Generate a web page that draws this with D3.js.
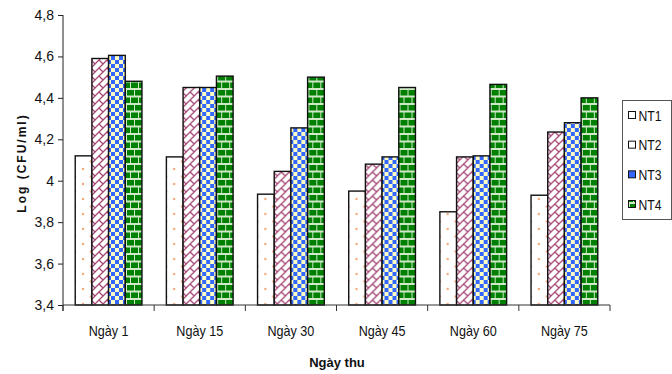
<!DOCTYPE html>
<html>
<head>
<meta charset="utf-8">
<script src="https://cdn.jsdelivr.net/npm/d3@7"></script>
<style>
  html, body { margin: 0; padding: 0; background: #fff; }
  svg { display: block; font-family: "Liberation Sans", Arial, sans-serif; }
</style>
</head>
<body>
<svg id="chart" width="672" height="374"></svg>
<script>
// Sampling days and log counts for the four treatments
const categories = ["Ngày 1", "Ngày 15", "Ngày 30", "Ngày 45", "Ngày 60", "Ngày 75"];
const seriesNames = ["NT1", "NT2", "NT3", "NT4"];
const NT1 = [4.12, 4.115, 3.935, 3.95, 3.85, 3.93];
const NT2 = [4.59, 4.45, 4.045, 4.08, 4.115, 4.235];
const NT3 = [4.605, 4.45, 4.255, 4.115, 4.12, 4.28];
const NT4 = [4.48, 4.505, 4.50, 4.45, 4.465, 4.40];
const yTicks = [3.4, 3.6, 3.8, 4.0, 4.2, 4.4, 4.6, 4.8];
const yTitle = "Log (CFU/ml)";
const xTitle = "Ngày thu";

const seriesValues = [NT1, NT2, NT3, NT4];

const svg = d3.select("#chart");
const plot = { left: 63, right: 610, top: 15, bottom: 305 };

// ---- fill patterns ----
const defs = svg.append("defs");

// NT1: sparse peach dots on white
const pDots = defs.append("pattern").attr("id", "pat-NT1")
  .attr("patternUnits", "userSpaceOnUse").attr("width", 16).attr("height", 15);
pDots.append("rect").attr("width", 16).attr("height", 15).attr("fill", "#fff");
pDots.append("circle").attr("cx", 4).attr("cy", 4).attr("r", 1.2).attr("fill", "#f5a878");
pDots.append("circle").attr("cx", 12).attr("cy", 11.5).attr("r", 1.2).attr("fill", "#f5a878");

// NT2: maroon diagonal brick on white
const pDiag = defs.append("pattern").attr("id", "pat-NT2")
  .attr("patternUnits", "userSpaceOnUse").attr("width", 8).attr("height", 8);
pDiag.append("rect").attr("width", 8).attr("height", 8).attr("fill", "#fff");
pDiag.append("path").attr("d", "M0,8 L8,0 M-1,1 L1,-1 M4,4 L8,8")
  .attr("stroke", "#993366").attr("stroke-width", 1.3).attr("fill", "none").attr("opacity", 0.9);

// NT3: blue / pale yellow checkerboard
const pCheck = defs.append("pattern").attr("id", "pat-NT3")
  .attr("patternUnits", "userSpaceOnUse").attr("width", 8).attr("height", 8);
pCheck.append("rect").attr("width", 8).attr("height", 8).attr("fill", "#ffffc4");
pCheck.append("rect").attr("x", 0).attr("y", 0).attr("width", 4).attr("height", 4).attr("fill", "#3366ff");
pCheck.append("rect").attr("x", 4).attr("y", 4).attr("width", 4).attr("height", 4).attr("fill", "#3366ff");

// NT4: green bricks with light mortar
const pBrick = defs.append("pattern").attr("id", "pat-NT4")
  .attr("patternUnits", "userSpaceOnUse").attr("width", 8).attr("height", 15);
pBrick.append("rect").attr("width", 8).attr("height", 15).attr("fill", "#cfe9c9");
pBrick.append("rect").attr("x", 0).attr("y", 0).attr("width", 7).attr("height", 5.5).attr("fill", "#008000");
pBrick.append("rect").attr("x", -4).attr("y", 7.5).attr("width", 7).attr("height", 5.5).attr("fill", "#008000");
pBrick.append("rect").attr("x", 4).attr("y", 7.5).attr("width", 7).attr("height", 5.5).attr("fill", "#008000");

// ---- scales ----
const x0 = d3.scaleBand().domain(categories).range([plot.left, plot.right]).padding(0);
const bw = x0.bandwidth();
const gap = bw * 0.134;
const x1 = d3.scaleBand().domain(seriesNames).range([gap, bw - gap]).padding(0);
const y = d3.scaleLinear().domain([3.4, 4.8]).range([plot.bottom, plot.top]);

// ---- bars ----
const groups = svg.append("g").selectAll("g")
  .data(categories)
  .join("g")
  .attr("transform", d => `translate(${x0(d)},0)`);

groups.selectAll("rect")
  .data((c, i) => seriesNames.map((s, k) => ({ s, v: seriesValues[k][i] })))
  .join("rect")
  .attr("x", d => x1(d.s))
  .attr("y", d => y(d.v))
  .attr("width", x1.bandwidth())
  .attr("height", d => y(3.4) - y(d.v))
  .attr("fill", d => `url(#pat-${d.s})`)
  .attr("stroke", "#111")
  .attr("stroke-width", 1.4);

// ---- y axis ----
const yAxis = svg.append("g")
  .attr("transform", `translate(${plot.left},0)`)
  .call(d3.axisLeft(y).tickValues(yTicks).tickSize(5).tickPadding(4)
    .tickFormat(d => d3.format(".1f")(d).replace(".", ",").replace(",0", "")));
yAxis.select(".domain").attr("stroke", "#222").attr("d", `M0,${plot.top}V${plot.bottom + 6}`);
yAxis.selectAll(".tick line").attr("stroke", "#222");
yAxis.selectAll(".tick text")
  .attr("font-size", 14).attr("fill", "#111")
  .attr("font-family", "'Liberation Sans', Arial, sans-serif");

// ---- x axis: ticks on the band boundaries ----
const xAxis = svg.append("g").attr("transform", `translate(0,${plot.bottom})`);
xAxis.append("line").attr("x1", plot.left).attr("x2", plot.right).attr("y1", 0).attr("y2", 0)
  .attr("stroke", "#333");
const bounds = categories.map(c => x0(c)).concat([x0(categories[categories.length - 1]) + bw]);
xAxis.selectAll("line.tk").data(bounds).join("line").attr("class", "tk")
  .attr("x1", d => d).attr("x2", d => d).attr("y1", 0).attr("y2", 6).attr("stroke", "#333");
xAxis.selectAll("text").data(categories).join("text")
  .attr("transform", d => `translate(${x0(d) + bw / 2},31) scale(0.9,1)`)
  .attr("text-anchor", "middle")
  .attr("font-size", 14).attr("fill", "#111")
  .text(d => d);

// ---- axis titles ----
svg.append("text")
  .attr("transform", `translate(26,163) rotate(-90)`)
  .attr("text-anchor", "middle")
  .attr("font-size", 12).attr("font-weight", "bold").attr("letter-spacing", 2)
  .attr("fill", "#111")
  .text(yTitle);

svg.append("text")
  .attr("x", 337).attr("y", 367)
  .attr("text-anchor", "middle")
  .attr("font-size", 13).attr("font-weight", "bold").attr("fill", "#111")
  .text(xTitle);

// ---- legend ----
const legend = svg.append("g").attr("transform", "translate(622,100)");
legend.append("rect").attr("x", 0.5).attr("y", 0.5).attr("width", 49).attr("height", 119)
  .attr("fill", "#fff").attr("stroke", "#555");
const swatchFill = { NT1: "#fff", NT2: "#fff", NT3: "#3366ff", NT4: "url(#pat-NT4)" };
const legendY = d3.scalePoint().domain(seriesNames).range([15, 104]);
const items = legend.selectAll("g.item").data(seriesNames).join("g").attr("class", "item")
  .attr("transform", d => `translate(0,${legendY(d)})`);
items.append("rect").attr("x", 6.5).attr("y", -3.5).attr("width", 7).attr("height", 7)
  .attr("fill", d => swatchFill[d]).attr("stroke", "#111").attr("stroke-width", 1);
items.append("text")
  .attr("transform", "translate(16.5,5.5) scale(0.84,1)")
  .attr("font-size", 14.5).attr("fill", "#111")
  .text(d => d);
</script>
</body>
</html>
